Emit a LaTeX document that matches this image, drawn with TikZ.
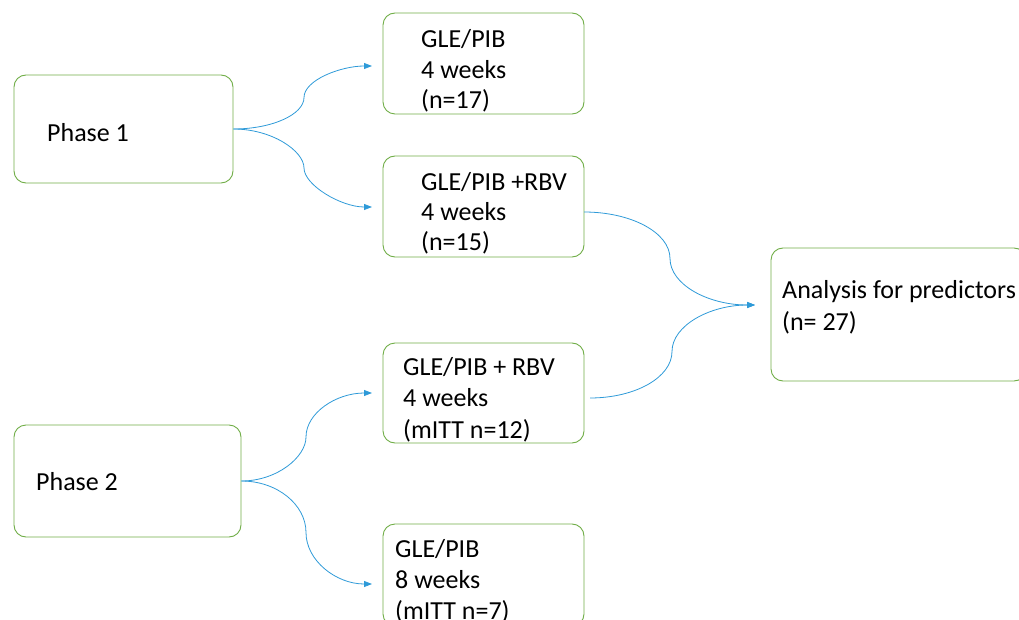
\documentclass[tikz,border=0pt]{standalone}
\usepackage{fontspec}
\setmainfont{Carlito}
\usetikzlibrary{arrows.meta}
\definecolor{boxgreen}{HTML}{70AD47}
\definecolor{conblue}{HTML}{2E9AD8}
\begin{document}
\begin{tikzpicture}[x=1pt,y=-1pt,
  box/.style={draw=boxgreen, line width=0.9pt, rounded corners=12pt, inner sep=0pt},
  txt/.style={anchor=base west, inner sep=0pt, font=\fontsize{26}{31}\selectfont},
  con/.style={draw=conblue, line width=0.8pt, -{Triangle[length=8pt,width=6pt]}}]
\useasboundingbox (0,0) rectangle (1019,620);
% boxes
\node[box, minimum width=219pt, minimum height=108pt] (p1) at (123.5,129) {};
\node[box, minimum width=201pt, minimum height=101pt] (b1) at (483.5,63.5) {};
\node[box, minimum width=201pt, minimum height=101pt] (b2) at (483.5,206.5) {};
\node[box, minimum width=255pt, minimum height=133pt] (an) at (898.5,314.5) {};
\node[box, minimum width=201pt, minimum height=100pt] (b3) at (483.5,393) {};
\node[box, minimum width=227pt, minimum height=112pt] (p2) at (127.5,481) {};
\node[box, minimum width=201pt, minimum height=102pt] (b4) at (483.5,575) {};
% texts
\node[txt] (tp1) at (47,142) {Phase 1};
\node[txt] (t1a) at (421,48) {GLE/PIB};
\node[txt] (t1b) at (421,79) {4 weeks};
\node[txt] (t1c) at (421,109) {(n=17)};
\node[txt] (t2a) at (421,191) {GLE/PIB +RBV};
\node[txt] (t2b) at (421,221) {4 weeks};
\node[txt] (t2c) at (421,251) {(n=15)};
\node[txt] (tan1) at (782,298) {Analysis for predictors};
\node[txt] (tan2) at (782,330) {(n= 27)};
\node[txt] (t3a) at (403,375) {GLE/PIB + RBV};
\node[txt] (t3b) at (403,406) {4 weeks};
\node[txt] (t3c) at (403,438) {(mITT n=12)};
\node[txt] (tp2) at (36,490) {Phase 2};
\node[txt] (t4a) at (395,557) {GLE/PIB};
\node[txt] (t4b) at (395,588) {8 weeks};
\node[txt] (t4c) at (395,619) {(mITT n=7)};
% connector ends
\coordinate (e1) at (372,66);
\coordinate (e2) at (372,207);
\coordinate (e3) at (372,393);
\coordinate (e4) at (372,584);
\coordinate (ea) at (755,305);
\coordinate (s2) at (584,212);
\coordinate (s3) at (590,398);
% connectors
\draw[con] (p1.east) .. controls (272,129) and (304,114.5) .. (304,97.5)
  .. controls (304,80) and (341,66) .. (e1);
\draw[con] (p1.east) .. controls (272,129) and (304,151) .. (304,168)
  .. controls (304,185) and (341,207) .. (e2);
\draw[con] (p2.east) .. controls (277,481) and (306,457) .. (306,437)
  .. controls (306,413) and (336,393) .. (e3);
\draw[con] (p2.east) .. controls (277,481) and (306,504.5) .. (306,532.5)
  .. controls (306,560.5) and (336,584) .. (e4);
\draw[con] (s2) .. controls (631,212) and (670,232.5) .. (670,258.5)
  .. controls (670,284.5) and (708,305) .. (ea);
\draw[con] (s3) .. controls (635,398) and (672,377.5) .. (672,351.5)
  .. controls (672,325.5) and (710,305) .. (ea);
\end{tikzpicture}
\end{document}
